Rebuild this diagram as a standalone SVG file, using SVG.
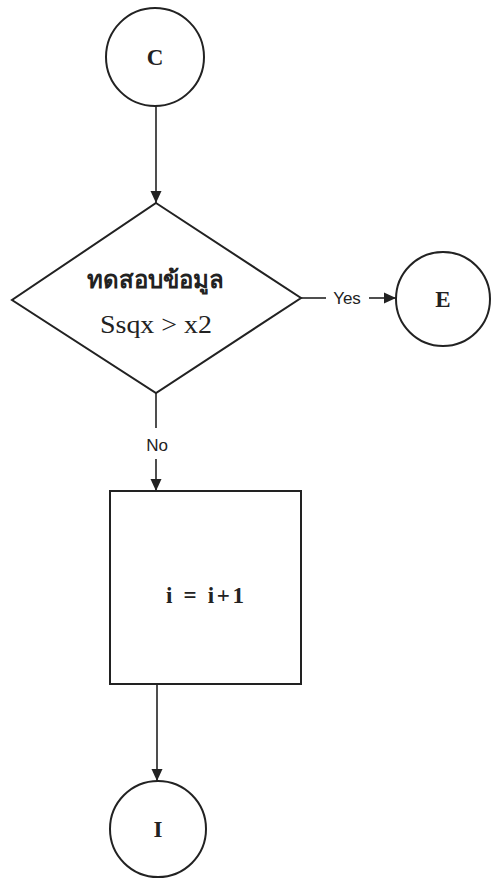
<svg xmlns="http://www.w3.org/2000/svg" width="492" height="878" viewBox="0 0 492 878">
<style>
.shape{fill:none;stroke:#222;stroke-width:2}
.conn{fill:none;stroke:#222;stroke-width:1.6}
.node-label{font-family:"Liberation Serif",serif;font-weight:bold;fill:#222;text-anchor:middle}
.plain{font-family:"Liberation Serif",serif;font-weight:normal;fill:#222;text-anchor:middle}
.edge-label{font-family:"Liberation Sans",Arial,sans-serif;font-size:17px;fill:#222;text-anchor:middle}
</style>
<defs>
<marker id="arrow" viewBox="0 0 12 12" refX="12" refY="6" markerWidth="12" markerHeight="12" markerUnits="userSpaceOnUse" orient="auto">
<path d="M0,0.5 L12,6 L0,11.5 Z" fill="#222"/>
</marker>
</defs>
<rect width="492" height="878" fill="#fff"/>
<g id="node-C">
<circle class="shape" cx="155" cy="57" r="49"/>
<text class="node-label" x="155" y="65" font-size="23">C</text>
</g>
<g id="node-decision">
<polygon class="shape" points="156,203 301,298 156,393 12,300"/>
<text class="node-label" x="155" y="288" font-size="24" font-family="'Noto Serif Thai','Noto Sans Thai','Liberation Serif',serif">ทดสอบข้อมูล</text>
<text class="plain" x="156" y="333" font-size="25" textLength="112" lengthAdjust="spacingAndGlyphs">Ssqx &gt; x2</text>
</g>
<g id="node-E">
<circle class="shape" cx="443" cy="299" r="47"/>
<text class="node-label" x="443" y="307" font-size="23">E</text>
</g>
<g id="node-process">
<rect class="shape" x="110" y="491" width="191" height="193"/>
<text class="node-label" x="205" y="603" font-size="23" textLength="78" lengthAdjust="spacing">i = i+1</text>
</g>
<g id="node-I">
<circle class="shape" cx="158" cy="829" r="48"/>
<text class="node-label" x="158" y="837" font-size="23">I</text>
</g>
<g id="connectors">
<line class="conn" x1="156" y1="106" x2="156" y2="203" marker-end="url(#arrow)"/>
<line class="conn" x1="301" y1="298" x2="326" y2="298"/>
<text class="edge-label" x="347" y="304">Yes</text>
<line class="conn" x1="369" y1="298" x2="396" y2="298" marker-end="url(#arrow)"/>
<line class="conn" x1="156" y1="393" x2="156" y2="428"/>
<text class="edge-label" x="157" y="451">No</text>
<line class="conn" x1="156" y1="459" x2="156" y2="491" marker-end="url(#arrow)"/>
<line class="conn" x1="157" y1="684" x2="157" y2="781" marker-end="url(#arrow)"/>
</g>
</svg>
